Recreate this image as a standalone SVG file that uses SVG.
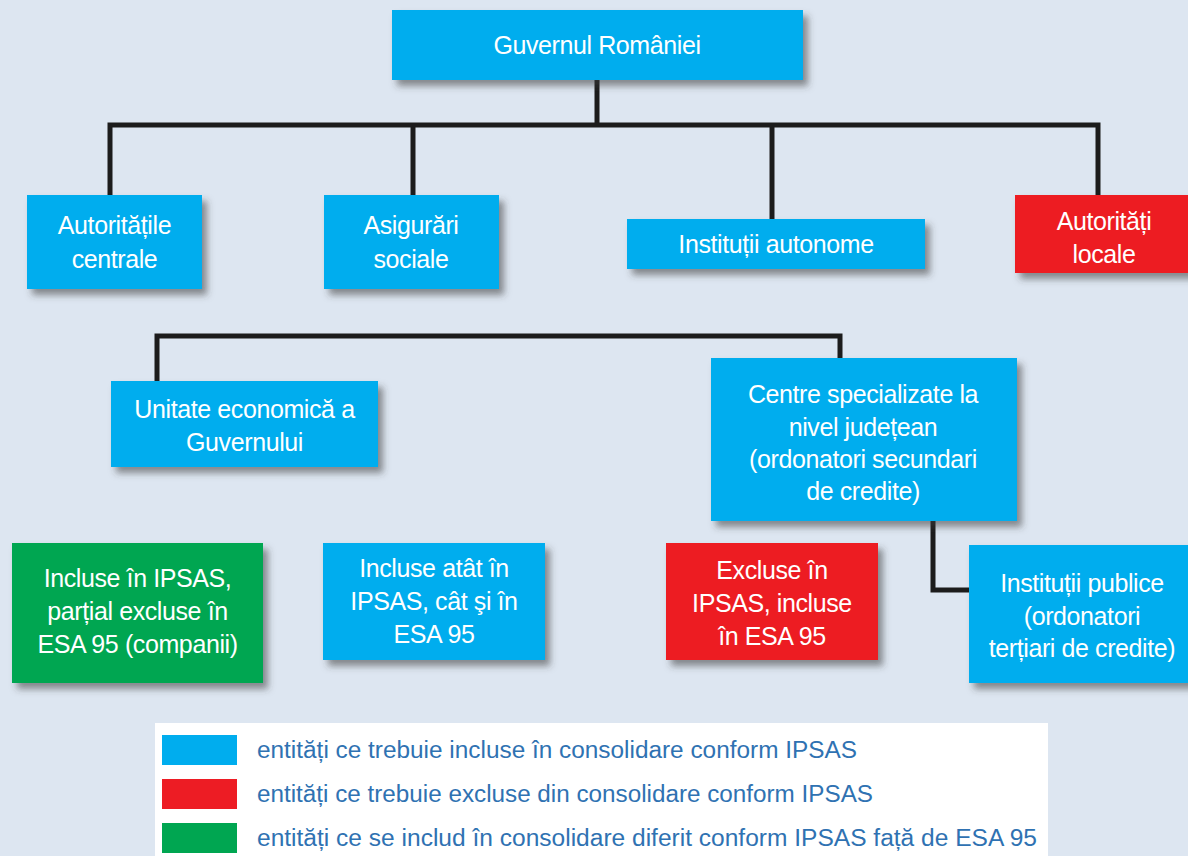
<svg xmlns="http://www.w3.org/2000/svg" width="1188" height="856" viewBox="0 0 1188 856">
<style>
.bg{fill:#dde6f1}
.blue{fill:#00adee}
.red{fill:#ed1c24}
.green{fill:#00a651}
.box{filter:url(#sh)}
.t{font-family:"Liberation Sans",Arial,sans-serif;font-size:25px;letter-spacing:-0.4px;fill:#ffffff;text-anchor:middle}
.con{fill:none;stroke:#1c1c1c;stroke-width:5;stroke-linejoin:miter}
.lg{font-family:"Liberation Sans",Arial,sans-serif;font-size:23px;fill:#2f72b2}
</style>
<defs>
<filter id="sh" x="-10%" y="-10%" width="130%" height="140%">
<feDropShadow dx="5" dy="6" stdDeviation="3.5" flood-color="#3a3a3a" flood-opacity="0.55"/>
</filter>
</defs>
<rect class="bg" x="0" y="0" width="1188" height="856"/>
<g id="connectors">
<path class="con" d="M597,80 V125"/>
<path class="con" d="M110,195 V125 H1098 V195"/>
<path class="con" d="M413,125 V195"/>
<path class="con" d="M772,125 V219"/>
<path class="con" d="M157,381 V336 H840 V358"/>
<path class="con" d="M933,521 V590 H969"/>
</g>
<g id="guvernul">
<rect class="box blue" x="392" y="10" width="411" height="70"/>
<text class="t" x="597" y="54">Guvernul României</text>
</g>
<g id="autoritatile-centrale">
<rect class="box blue" x="27" y="195" width="175" height="94"/>
<text class="t"><tspan x="114.5" y="234">Autoritățile</tspan><tspan x="114.5" y="268">centrale</tspan></text>
</g>
<g id="asigurari-sociale">
<rect class="box blue" x="324" y="195" width="175" height="94"/>
<text class="t"><tspan x="411" y="234">Asigurări</tspan><tspan x="411" y="268">sociale</tspan></text>
</g>
<g id="institutii-autonome">
<rect class="box blue" x="627" y="219" width="298" height="50"/>
<text class="t" x="776" y="253">Instituții autonome</text>
</g>
<g id="autoritati-locale">
<rect class="box red" x="1015" y="195" width="180" height="78"/>
<text class="t"><tspan x="1104" y="230">Autorități</tspan><tspan x="1104" y="263">locale</tspan></text>
</g>
<g id="unitate-economica">
<rect class="box blue" x="111" y="381" width="267" height="86"/>
<text class="t"><tspan x="244.5" y="418">Unitate economică a</tspan><tspan x="244.5" y="451">Guvernului</tspan></text>
</g>
<g id="centre-specializate">
<rect class="box blue" x="711" y="358" width="306" height="163"/>
<text class="t"><tspan x="863" y="403">Centre specializate la</tspan><tspan x="863" y="436">nivel județean</tspan><tspan x="863" y="468">(ordonatori secundari</tspan><tspan x="863" y="500">de credite)</tspan></text>
</g>
<g id="incluse-partial">
<rect class="box green" x="12" y="543" width="251" height="140"/>
<text class="t"><tspan x="137.5" y="587">Incluse în IPSAS,</tspan><tspan x="137.5" y="620">parțial excluse în</tspan><tspan x="137.5" y="653">ESA 95 (companii)</tspan></text>
</g>
<g id="incluse-atat">
<rect class="box blue" x="323" y="543" width="222" height="117"/>
<text class="t"><tspan x="434" y="577">Incluse atât în</tspan><tspan x="434" y="610">IPSAS, cât şi în</tspan><tspan x="434" y="643">ESA 95</tspan></text>
</g>
<g id="excluse">
<rect class="box red" x="666" y="543" width="212" height="117"/>
<text class="t"><tspan x="772" y="579">Excluse în</tspan><tspan x="772" y="612">IPSAS, incluse</tspan><tspan x="772" y="645">în ESA 95</tspan></text>
</g>
<g id="institutii-publice">
<rect class="box blue" x="969" y="545" width="228" height="138"/>
<text class="t"><tspan x="1082" y="592">Instituții publice</tspan><tspan x="1082" y="625">(ordonatori</tspan><tspan x="1082" y="657">terțiari de credite)</tspan></text>
</g>
<g id="legend">
<rect x="155" y="723" width="893" height="140" fill="#ffffff"/>
<rect class="blue" x="162" y="735" width="75" height="30"/>
<rect class="red" x="162" y="779" width="75" height="30"/>
<rect class="green" x="162" y="823" width="75" height="30"/>
<text class="lg" x="257" y="758" textLength="600" lengthAdjust="spacingAndGlyphs">entități ce trebuie incluse în consolidare conform IPSAS</text>
<text class="lg" x="257" y="802" textLength="616" lengthAdjust="spacingAndGlyphs">entități ce trebuie excluse din consolidare conform IPSAS</text>
<text class="lg" x="257" y="846" textLength="780" lengthAdjust="spacingAndGlyphs">entități ce se includ în consolidare diferit conform IPSAS față de  ESA 95</text>
</g>
</svg>
